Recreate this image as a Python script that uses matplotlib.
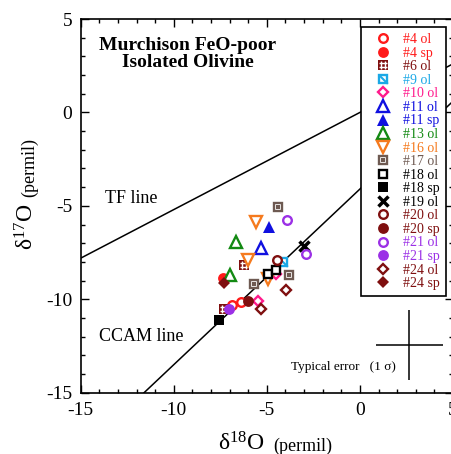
import matplotlib
matplotlib.use('Agg')
import matplotlib.pyplot as plt
from matplotlib.path import Path
from matplotlib.ticker import MultipleLocator

plt.rcParams['font.family'] = ['Liberation Serif', 'DejaVu Serif']
plt.rcParams['axes.unicode_minus'] = False
plt.rcParams['mathtext.fontset'] = 'custom'
plt.rcParams['mathtext.rm'] = 'Liberation Serif'

# grain labels and colours (legend order)
names = ['#4 ol', '#4 sp', '#6 ol', '#9 ol', '#10 ol', '#11 ol', '#11 sp', '#13 ol',
         '#16 ol', '#17 ol', '#18 ol', '#18 sp', '#19 ol', '#20 ol', '#20 sp',
         '#21 ol', '#21 sp', '#24 ol', '#24 sp']
colors = ['#ff1a1a', '#ff1a1a', '#7f0f0f', '#1aa8e6', '#ff1a8c', '#1010e0', '#1010e0', '#138a13',
          '#f57a1e', '#6e5a52', '#000000', '#000000', '#000000', '#7f0f0f', '#7f0f0f',
          '#9b30e6', '#9b30e6', '#7f0f0f', '#7f0f0f']

# delta 18O / delta 17O (permil)
d18O = [[-6.89, -6.41], [-7.37], [-6.21, -7.30], [-4.12], [-5.46, -4.51], [-5.33], [-4.87],
        [-6.66, -6.98], [-5.59, -6.00, -4.92], [-5.69, -4.39, -3.80], [-4.92, -4.51], [-7.56],
        [-3.01], [-4.44], [-6.00], [-3.94, -2.90], [-7.02], [-5.33, -3.99], [-7.30]]
d17O = [[-10.31, -10.15], [-8.88], [-8.17, -10.54], [-8.01], [-10.08, -8.65], [-7.28], [-6.12],
        [-6.95, -8.72], [-5.88, -7.90, -8.93], [-9.19, -5.05, -8.72], [-8.65, -8.44], [-11.11],
        [-7.14], [-7.90], [-10.10], [-5.76, -7.58], [-10.54], [-10.54, -9.51], [-9.15]]

# reference lines: slope, intercept
tf_line = (0.52, 0.0)
ccam_line = (0.94, -4.1)
x_line = [-15, 5]

# typical error (1 sigma)
err_x, err_y = 2.65, -12.45
err_18, err_17 = 1.8, 1.87

# custom marker paths
M, L = Path.MOVETO, Path.LINETO
grid_path = Path([(1, 1), (-1/3, -0.8), (-1/3, 0.8), (1/3, -0.8), (1/3, 0.8),
                  (-0.8, -1/3), (0.8, -1/3), (-0.8, 1/3), (0.8, 1/3)],
                 [M, M, L, M, L, M, L, M, L])
diag_path = Path([(-1, 1), (1, -1)], [M, L])
open_kw = dict(ms=6.2, mew=1.7, mfc='white')
fill_kw = dict(ms=7.8, mew=0)
marker = {'#4 ol': 'o', '#4 sp': 'o', '#6 ol': 's', '#9 ol': 's', '#10 ol': 'D',
          '#11 ol': '^', '#11 sp': '^', '#13 ol': '^', '#16 ol': 'v', '#17 ol': 's',
          '#18 ol': 's', '#18 sp': 's', '#19 ol': 'x', '#20 ol': 'o', '#20 sp': 'o',
          '#21 ol': 'o', '#21 sp': 'o', '#24 ol': 'D', '#24 sp': 'D'}

fig = plt.figure(figsize=(4.51, 4.54), dpi=100)
ax = fig.add_axes([80.7 / 451, 61.3 / 454, 372.3 / 451, 373.7 / 454])

for slope, icpt in (tf_line, ccam_line):
    ax.plot(x_line, [slope * x + icpt for x in x_line], color='black', lw=1.1, zorder=1)

handles = []
for name, c, xs, ys in zip(names, colors, d18O, d17O):
    m = marker[name]
    if name == '#19 ol':
        kw = dict(ms=7, mew=2.5)
    elif name.endswith('sp'):
        kw = dict(fill_kw)
        if m == 'D':
            kw['ms'] = 6.5
        if m == 's':
            kw['ms'] = 7.5
        if m == '^':
            kw['ms'] = 9
    else:
        kw = dict(open_kw)
        if m == 'D':
            kw['ms'] = 5.4
        if m in ('^', 'v'):
            kw['ms'] = 8
    if name == '#6 ol':
        h1, = ax.plot(xs, ys, ls='none', marker='s', ms=7.5, mew=0, color=c, zorder=3)
        h2, = ax.plot(xs, ys, ls='none', marker=grid_path, ms=7.5, mew=1.0, mec='white',
                      mfc='none', zorder=3)
        handles.append((h1, h2))
        continue
    if name == '#9 ol':
        h1, = ax.plot(xs, ys, ls='none', marker='s', color=c, zorder=3, **kw)
        h2, = ax.plot(xs, ys, ls='none', marker=diag_path, ms=6.2, mew=1.5, mec=c,
                      mfc='none', zorder=3)
        handles.append((h1, h2))
        continue
    if name == '#17 ol':
        h1, = ax.plot(xs, ys, ls='none', marker='s', color=c, zorder=3, **kw)
        h2, = ax.plot(xs, ys, ls='none', marker='s', ms=2.3, mew=0, color=c, zorder=3)
        handles.append((h1, h2))
        continue
    h, = ax.plot(xs, ys, ls='none', marker=m, color=c, zorder=3, **kw)
    handles.append(h)

# typical error cross
ax.errorbar([err_x], [err_y], xerr=[err_18], yerr=[err_17], fmt='none',
            ecolor='black', elinewidth=1.1, capsize=0)

ax.set_xlim(-15, 5)
ax.set_ylim(-15, 5)
ax.xaxis.set_major_locator(MultipleLocator(5))
ax.yaxis.set_major_locator(MultipleLocator(5))
ax.xaxis.set_minor_locator(MultipleLocator(1))
ax.yaxis.set_minor_locator(MultipleLocator(1))
ax.tick_params(which='both', direction='in', top=True, right=True, width=1.0,
               labelsize=14)
ax.tick_params(which='major', length=6)
ax.tick_params(which='minor', length=3)
ax.tick_params(axis='x', pad=7)
ax.tick_params(axis='y', pad=6)
for sp in ax.spines.values():
    sp.set_linewidth(1.2)

ax.text(0.288, 0.906, 'Murchison FeO-poor\nIsolated Olivine', transform=ax.transAxes,
        ha='center', va='center', fontsize=14, fontweight='bold', linespacing=0.95)
ax.text(-13.7, -4.58, 'TF line', ha='left', va='center', fontsize=13)
ax.text(-14.0, -11.97, 'CCAM line', ha='left', va='center', fontsize=13)
ax.text(-3.72, -13.61, 'Typical error   (1 σ)', ha='left', va='center', fontsize=9.5)

leg = ax.legend(handles, names, loc='upper left', bbox_to_anchor=(0.753, 0.979),
                borderaxespad=0, fontsize=10, numpoints=1, fancybox=False,
                framealpha=1, edgecolor='black', borderpad=0.45, labelspacing=0.04,
                handlelength=2.3, handletextpad=0.25)
leg.get_frame().set_linewidth(1.2)
for t, c in zip(leg.get_texts(), colors):
    t.set_color(c)

# axis labels: big delta symbol, smaller unit
fig.text(218 / 451, 3.5 / 454, r'$\mathregular{δ^{18}O}$', fontsize=17,
         ha='left', va='baseline')
fig.text(273 / 451, 3.5 / 454, '(permil)', fontsize=13, ha='left', va='baseline')
fig.text(34 / 451, 1 - 250 / 454, r'$\mathregular{δ^{17}O}$', fontsize=17, rotation=90,
         rotation_mode='anchor', ha='left', va='baseline')
fig.text(34 / 451, 1 - 197 / 454, '(permil)', fontsize=13, rotation=90,
         rotation_mode='anchor', ha='left', va='baseline')

fig.savefig('out.png', dpi=100)
